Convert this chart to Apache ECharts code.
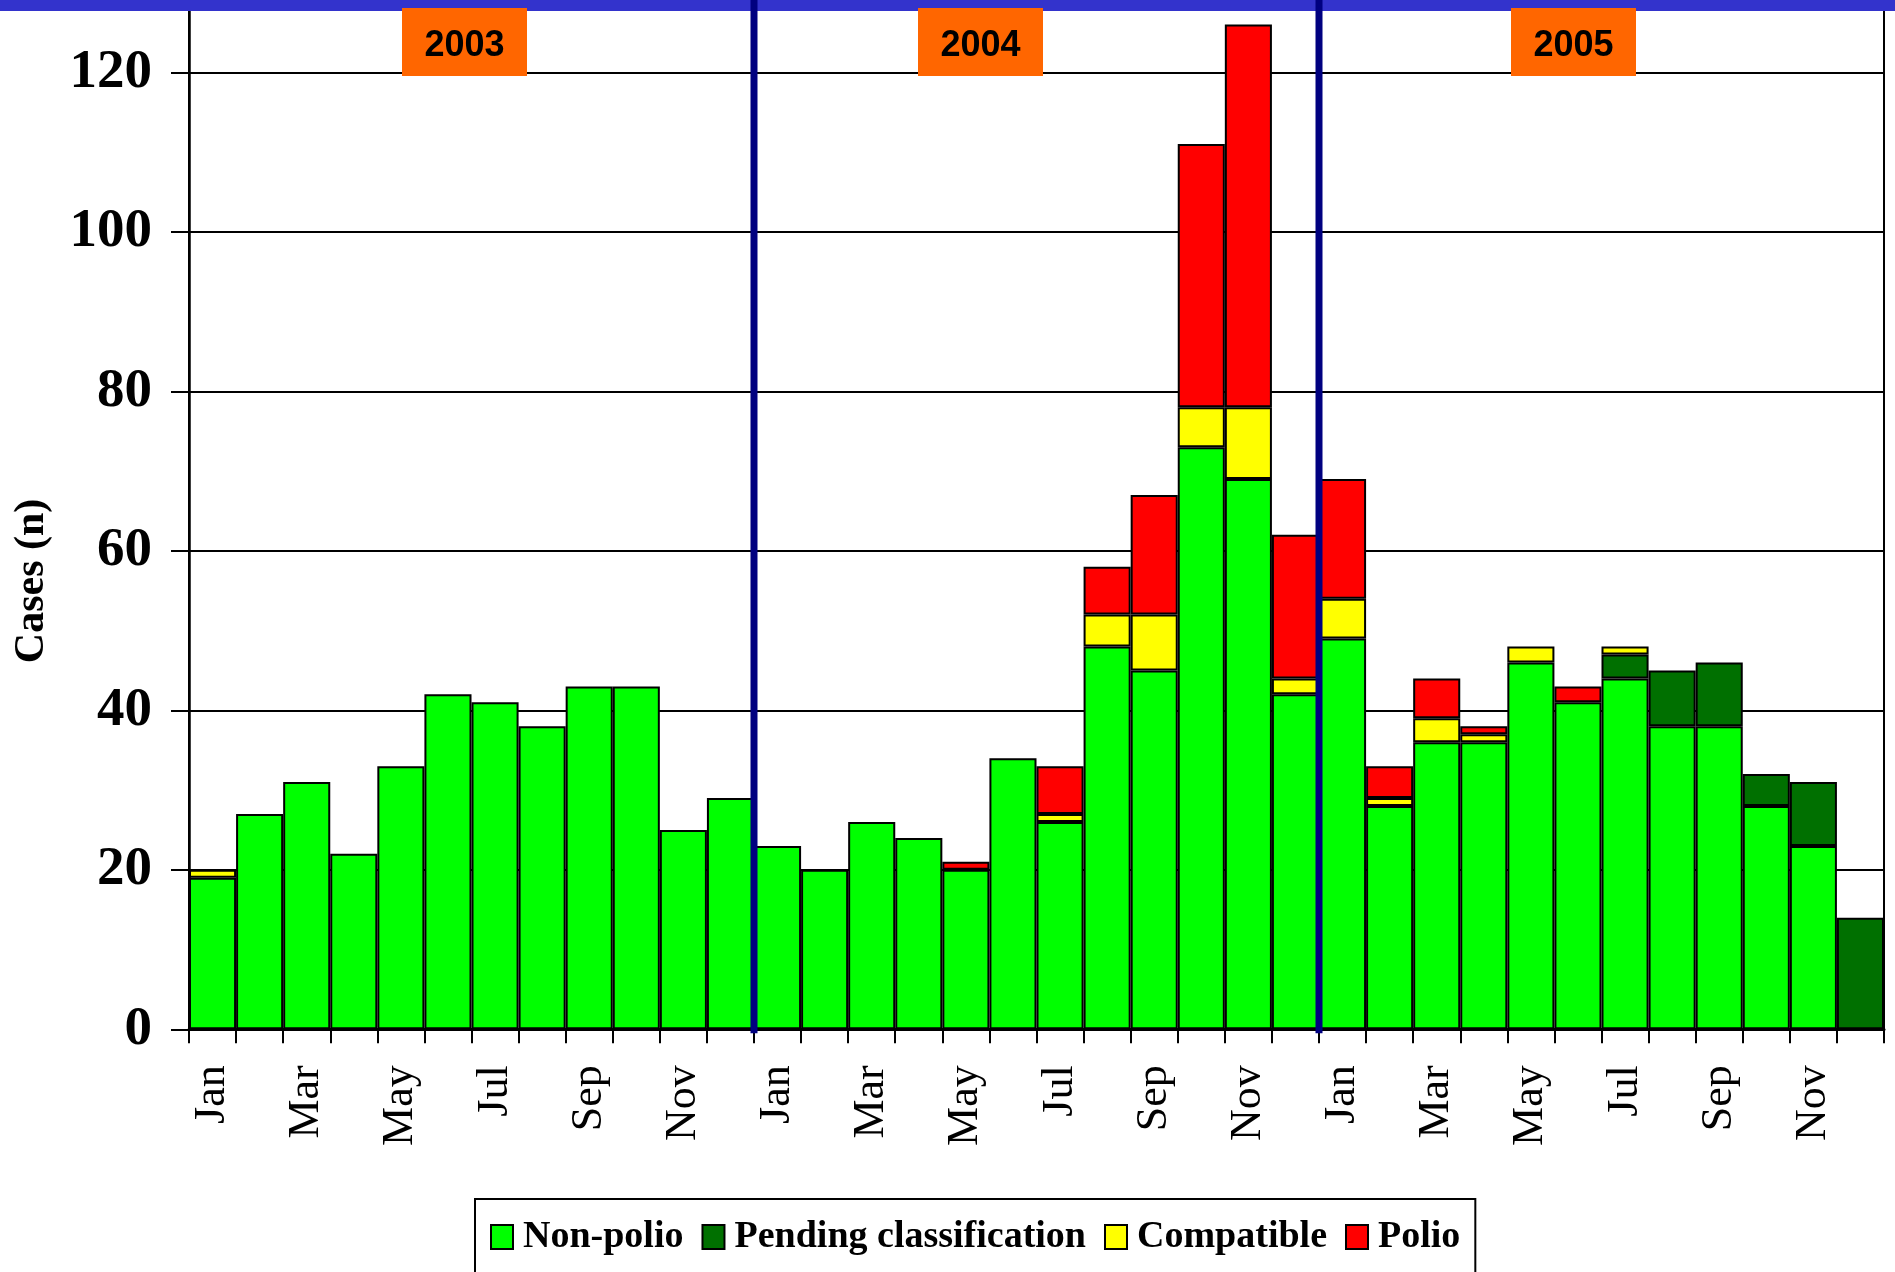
<!DOCTYPE html>
<html>
<head>
<meta charset="utf-8">
<script src="https://cdn.jsdelivr.net/npm/echarts@6/dist/echarts.min.js"></script>
<style>
html,body{margin:0;padding:0;background:#fff;}
#chart{width:1895px;height:1272px;}
</style>
</head>
<body>
<div id="chart"></div>
<script>
// ---- data ----
const years = ['2003', '2004', '2005'];
const months = ['Jan','Feb','Mar','Apr','May','Jun','Jul','Aug','Sep','Oct','Nov','Dec'];
const seriesNames = ['Non-polio', 'Pending classification', 'Compatible', 'Polio'];
const nonPolio = [19,27,31,22,33,42,41,38,43,43,25,29,
                  23,20,26,24,20,34,26,48,45,73,69,42,
                  49,28,36,36,46,41,44,38,38,28,23,0];
const pending  = [0,0,0,0,0,0,0,0,0,0,0,0,
                  0,0,0,0,0,0,0,0,0,0,0,0,
                  0,0,0,0,0,0,3,7,8,4,8,14];
const compatible = [1,0,0,0,0,0,0,0,0,0,0,0,
                    0,0,0,0,0,0,1,4,7,5,9,2,
                    5,1,3,1,2,0,1,0,0,0,0,0];
const polio    = [0,0,0,0,0,0,0,0,0,0,0,0,
                  0,0,0,0,1,0,6,6,15,33,48,18,
                  15,4,5,1,0,2,0,0,0,0,0,0];
const yTicks = [0,20,40,60,80,100,120];

const categories = [];
years.forEach(y => months.forEach(m => categories.push(y + '-' + m)));
const colors = ['#00FF00', '#007000', '#FFFF00', '#FF0000'];
const serif = "'Liberation Serif','Times New Roman',serif";

const chart = echarts.init(document.getElementById('chart'), null, {renderer: 'canvas'});
const noZero = arr => arr.map(v => v === 0 ? '-' : v);

const option = {
  animation: false,
  backgroundColor: '#fff',
  grid: {
    left: 189, right: 11, top: 8.5, bottom: 242.7,
    show: true, borderColor: '#000', borderWidth: 2, backgroundColor: 'transparent',
    containLabel: false, outerBoundsMode: 'none'
  },
  legend: {
    left: 475, top: 1199,
    data: seriesNames,
    selectedMode: false,
    icon: 'rect',
    itemWidth: 22, itemHeight: 24, itemGap: 18,
    borderColor: '#000', borderWidth: 2,
    padding: [19, 15, 80, 15],
    textStyle: {fontFamily: serif, fontWeight: 'bold', fontSize: 38, color: '#000', padding: [0,0,0,5]}
  },
  xAxis: {
    type: 'category',
    data: categories,
    boundaryGap: true,
    axisLine: {show: true, lineStyle: {color: '#000', width: 3}},
    axisTick: {show: true, interval: 0, length: 14, lineStyle: {color: '#000', width: 2}},
    axisLabel: {
      interval: 1, rotate: 90, margin: 36,
      fontFamily: serif, fontSize: 44, color: '#000',
      formatter: v => v.split('-')[1]
    },
    splitLine: {show: false}
  },
  yAxis: {
    type: 'value',
    min: yTicks[0], max: 128, interval: yTicks[1] - yTicks[0],
    name: 'Cases (n)',
    nameLocation: 'middle',
    nameGap: 136,
    nameTextStyle: {fontFamily: serif, fontWeight: 'bold', fontSize: 42, color: '#000', padding: [0, 124, 0, 0]},
    axisLine: {show: true, lineStyle: {color: '#000', width: 2.5}},
    axisTick: {show: true, length: 18, lineStyle: {color: '#000', width: 2}},
    axisLabel: {showMaxLabel: false, margin: 37, fontFamily: serif, fontWeight: 'bold', fontSize: 55, color: '#000'},
    splitLine: {show: true, lineStyle: {color: '#000', width: 2}}
  },
  series: [nonPolio, pending, compatible, polio].map((arr, i) => ({
    name: seriesNames[i],
    type: 'bar',
    stack: 'cases',
    barCategoryGap: '0%',
    data: noZero(arr),
    itemStyle: {color: colors[i], borderColor: '#000', borderWidth: 2},
    emphasis: {disabled: true}
  }))
};
chart.setOption(option);

// ---- annotations ----
function boundaryX(idx) {
  const a = chart.convertToPixel({xAxisIndex: 0}, categories[idx - 1]);
  const b = chart.convertToPixel({xAxisIndex: 0}, categories[idx]);
  return (a + b) / 2;
}
const yBase = chart.convertToPixel({yAxisIndex: 0}, 0);
const graphics = [
  {type: 'rect', shape: {x: 0, y: 0, width: 1895, height: 11}, style: {fill: '#3333CC'}, z: 100}
];
[12, 24].forEach(idx => {
  const x = boundaryX(idx);
  graphics.push({type: 'rect', shape: {x: x - 3.5, y: 0, width: 7, height: yBase + 4}, style: {fill: '#000080'}, z: 110});
});
const boxLeft = [402, 918, 1511];
years.forEach((y, i) => {
  graphics.push({type: 'rect', shape: {x: boxLeft[i], y: 8, width: 125, height: 68}, style: {fill: '#FF6600'}, z: 105});
  graphics.push({type: 'text', x: boxLeft[i] + 62.5, y: 46, z: 106,
    style: {text: y, fill: '#000', font: "bold 36px 'Liberation Sans', Arial, sans-serif", align: 'center', verticalAlign: 'middle'}});
});
chart.setOption({graphic: graphics});
</script>
</body>
</html>
